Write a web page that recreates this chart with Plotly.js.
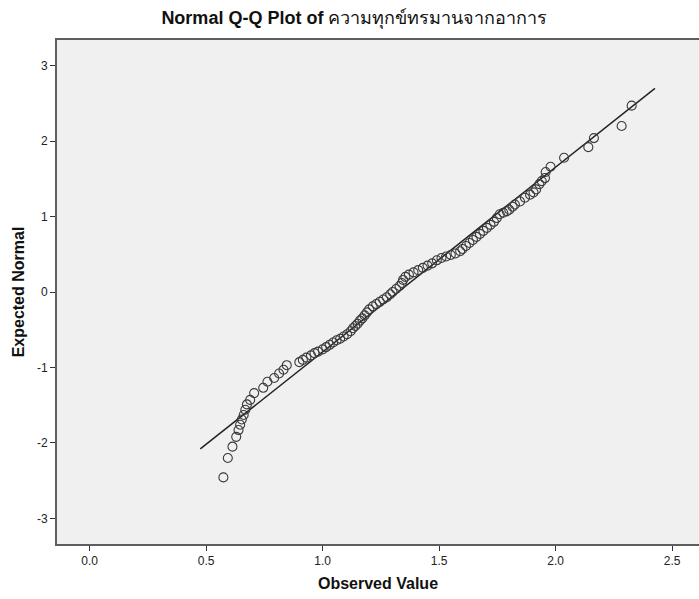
<!DOCTYPE html>
<html>
<head>
<meta charset="utf-8">
<script src="https://cdn.plot.ly/plotly-3.0.1.min.js"></script>
<style>html,body{margin:0;padding:0;background:#fff;}#chart{width:699px;height:599px;}</style>
</head>
<body>
<div id="chart"></div>
<script>
const observed = [0.574,0.593,0.613,0.629,0.639,0.646,0.653,0.661,0.668,0.675,0.689,0.706,0.745,0.763,0.792,0.813,0.832,0.846,0.900,0.915,0.930,0.950,0.965,0.980,1.000,1.015,1.030,1.045,1.060,1.075,1.090,1.105,1.120,1.130,1.140,1.150,1.160,1.170,1.180,1.190,1.200,1.215,1.230,1.245,1.260,1.275,1.290,1.300,1.315,1.330,1.340,1.345,1.355,1.370,1.390,1.410,1.430,1.450,1.470,1.490,1.510,1.530,1.550,1.570,1.590,1.600,1.615,1.630,1.645,1.660,1.675,1.690,1.705,1.720,1.735,1.747,1.760,1.775,1.790,1.801,1.815,1.825,1.847,1.868,1.890,1.905,1.916,1.930,1.940,1.954,1.957,1.978,2.036,2.140,2.164,2.283,2.326];
const expected = [-2.457,-2.20,-2.05,-1.92,-1.83,-1.76,-1.69,-1.63,-1.56,-1.49,-1.43,-1.34,-1.27,-1.19,-1.14,-1.08,-1.03,-0.97,-0.93,-0.90,-0.87,-0.84,-0.81,-0.79,-0.76,-0.73,-0.70,-0.67,-0.64,-0.62,-0.59,-0.56,-0.52,-0.48,-0.45,-0.42,-0.38,-0.35,-0.31,-0.27,-0.23,-0.19,-0.16,-0.13,-0.10,-0.07,-0.03,0.00,0.04,0.08,0.12,0.16,0.20,0.23,0.26,0.29,0.32,0.35,0.38,0.42,0.45,0.47,0.49,0.51,0.54,0.57,0.61,0.65,0.69,0.73,0.77,0.81,0.85,0.89,0.93,0.98,1.03,1.05,1.07,1.09,1.13,1.16,1.20,1.25,1.29,1.32,1.36,1.43,1.47,1.51,1.59,1.66,1.78,1.92,2.04,2.20,2.47];
// Reference line end points
const lineX = [0.475, 2.426];
const lineY = [-2.08, 2.70];
const xTicks = [0.0, 0.5, 1.0, 1.5, 2.0, 2.5];
const yTicks = [-3, -2, -1, 0, 1, 2, 3];

const traces = [
  {x: lineX, y: lineY, mode: 'lines', type: 'scatter', line: {color: '#222', width: 1.5}, hoverinfo: 'skip'},
  {x: observed, y: expected, mode: 'markers', type: 'scatter',
   marker: {symbol: 'circle-open', size: 9, color: '#3a3a3a', line: {width: 1.1, color: '#3a3a3a'}}}
];
const font = 'Liberation Sans, Arial, sans-serif';
const layout = {
  width: 699, height: 599,
  margin: {l: 57, r: 0, t: 40, b: 55},
  paper_bgcolor: '#ffffff', plot_bgcolor: '#f0f0f0',
  showlegend: false,
  title: {text: '<b>Normal Q-Q Plot of</b> ความทุกข์ทรมานจากอาการ', x: 0.507, xanchor: 'center', y: 0.97, yanchor: 'middle',
          font: {family: font, size: 18, color: '#111'}},
  xaxis: {range: [-0.14, 2.615], tickvals: xTicks, ticktext: xTicks.map(v => v.toFixed(1)),
          showgrid: false, zeroline: false, showline: true, mirror: true, linecolor: '#5e5e5e', linewidth: 2,
          ticks: 'outside', ticklen: 5, tickcolor: '#333', tickfont: {family: font, size: 12, color: '#222'},
          title: {text: '<b>Observed Value</b>', font: {family: font, size: 16, color: '#111'}, standoff: 10}},
  yaxis: {range: [-3.34, 3.34], tickvals: yTicks, ticktext: yTicks.map(String),
          showgrid: false, zeroline: false, showline: true, linecolor: '#5e5e5e', linewidth: 2,
          ticks: 'outside', ticklen: 5, tickcolor: '#333', tickfont: {family: font, size: 12, color: '#222'},
          title: {text: '<b>Expected Normal</b>', font: {family: font, size: 16, color: '#111'}, standoff: 8}}
};
Plotly.newPlot('chart', traces, layout, {displayModeBar: false, staticPlot: true});
</script>
</body>
</html>
